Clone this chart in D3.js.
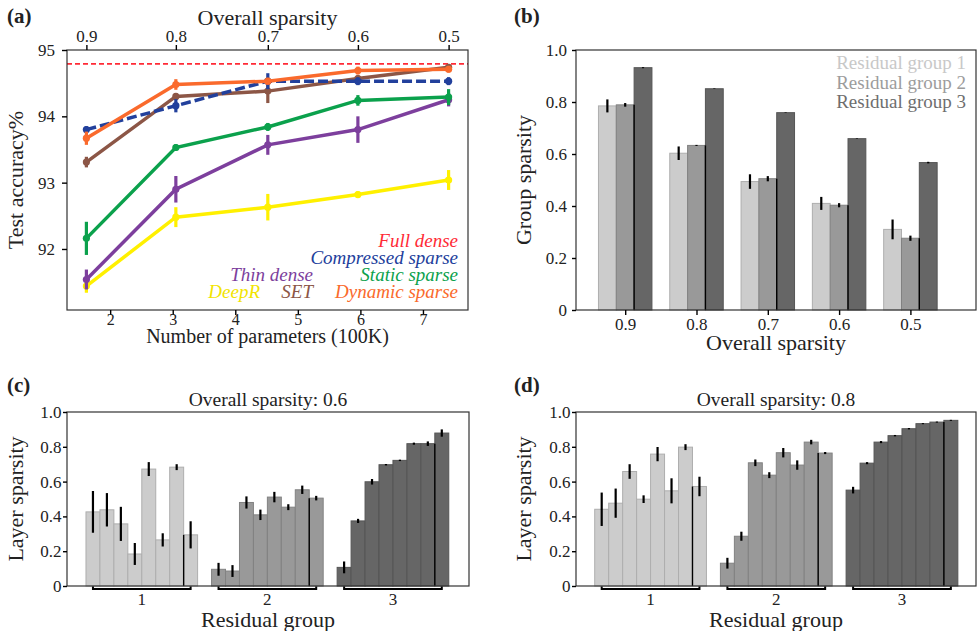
<!DOCTYPE html>
<html>
<head>
<meta charset="utf-8">
<script src="https://cdn.jsdelivr.net/npm/d3@7"></script>
<style>
  body { margin: 0; background: #fff; }
  svg text { font-family: "Liberation Serif", "Times New Roman", serif; fill: #222; }
</style>
</head>
<body>
<svg id="fig" width="979" height="631" font-family="Liberation Serif, serif"></svg>
<script>
// ---- (a) test accuracy vs number of parameters ----
var params = [1.62, 3.05, 4.52, 5.96, 7.41];           // 100K params
var sparsityLabels = ["0.9", "0.8", "0.7", "0.6", "0.5"];
var fullDense = 94.79;
var compressedSparse = [93.80, 94.16, 94.53, 94.53, 94.53];
var compressedErr    = [0.05, 0.10, 0.12, 0.06, 0.06];
var thinDense        = [91.54, 92.90, 93.57, 93.80, 94.25];
var thinErr          = [0.15, 0.20, 0.15, 0.20, 0.10];
var staticSparse     = [92.16, 93.53, 93.84, 94.24, 94.29];
var staticErr        = [0.25, 0.05, 0.06, 0.08, 0.12];
var deepR            = [91.44, 92.48, 92.63, 92.82, 93.04];
var deepRErr         = [0.10, 0.15, 0.20, 0.05, 0.15];
var setSeries        = [93.31, 94.30, 94.38, 94.57, 94.74];
var setErr           = [0.08, 0.05, 0.18, 0.05, 0.05];
var dynamicSparse    = [93.67, 94.48, 94.53, 94.69, 94.71];
var dynamicErr       = [0.10, 0.08, 0.05, 0.06, 0.05];

// ---- (b) group sparsity vs overall sparsity ----
var overall = ["0.9", "0.8", "0.7", "0.6", "0.5"];
var groupSparsity1 = [0.785, 0.603, 0.494, 0.410, 0.310];
var groupErr1      = [0.025, 0.026, 0.028, 0.025, 0.038];
var groupSparsity2 = [0.789, 0.633, 0.505, 0.403, 0.276];
var groupErr2      = [0.007, 0.002, 0.010, 0.008, 0.010];
var groupSparsity3 = [0.932, 0.851, 0.759, 0.659, 0.567];
var groupErr3      = [0.002, 0.001, 0.001, 0.001, 0.003];
var groupNames = ["Residual group 1", "Residual group 2", "Residual group 3"];

// ---- (c) layer sparsity, overall 0.6 ----
var s06Group1 = [0.426, 0.438, 0.357, 0.184, 0.672, 0.265, 0.683, 0.294];
var s06Group2 = [0.096, 0.086, 0.480, 0.409, 0.511, 0.453, 0.553, 0.505];
var s06Group3 = [0.107, 0.374, 0.599, 0.697, 0.722, 0.818, 0.818, 0.879];
var e06Group1 = [0.120, 0.096, 0.098, 0.063, 0.040, 0.038, 0.017, 0.078];
var e06Group2 = [0.037, 0.034, 0.035, 0.030, 0.030, 0.017, 0.024, 0.013];
var e06Group3 = [0.034, 0.012, 0.016, 0.004, 0.004, 0.006, 0.013, 0.021];

// ---- (d) layer sparsity, overall 0.8 ----
var s08Group1 = [0.441, 0.476, 0.658, 0.499, 0.758, 0.547, 0.798, 0.572];
var s08Group2 = [0.131, 0.286, 0.708, 0.637, 0.766, 0.695, 0.827, 0.764];
var s08Group3 = [0.551, 0.706, 0.827, 0.864, 0.904, 0.933, 0.942, 0.952];
var e08Group1 = [0.096, 0.084, 0.042, 0.022, 0.041, 0.072, 0.017, 0.056];
var e08Group2 = [0.031, 0.026, 0.019, 0.017, 0.027, 0.027, 0.013, 0.006];
var e08Group3 = [0.019, 0.006, 0.006, 0.004, 0.004, 0.003, 0.003, 0.003];

var groupTicks = ["1", "2", "3"];
var greyFill = ["#cccccc", "#999999", "#666666"];
var greyEdge = ["#aeaeae", "#828282", "#555555"];

var serif = '"Liberation Serif", "Times New Roman", serif';
var svg = d3.select("#fig");
var frameColor = "#333";

function frame(g, box) {
  g.append("rect")
    .attr("x", box.left).attr("y", box.top)
    .attr("width", box.right - box.left).attr("height", box.bottom - box.top)
    .attr("fill", "none").attr("stroke", frameColor).attr("stroke-width", 1.2);
}

function styleAxis(a, size) {
  a.attr("font-size", size || 17).attr("font-family", serif);
  a.select(".domain").remove();
  a.selectAll(".tick line").attr("stroke", "#000").attr("stroke-width", 1.4);
  a.selectAll(".tick text").attr("fill", "#222").style("font-family", serif);
}

var fmt = function(d) { return d === 0 ? "0" : d3.format(".1f")(d); };

// =================== panel (a) ===================
(function() {
  var box = {left: 67, right: 468, top: 50, bottom: 310};
  var g = svg.append("g");
  var x = d3.scaleLinear().domain([1.31, 7.72]).range([box.left, box.right]);
  var y = d3.scaleLinear().domain([91.08, 95]).range([box.bottom, box.top]);

  var series = [
    {name: "DeepR", vals: deepR, err: deepRErr, color: "#fff000"},
    {name: "Thin dense", vals: thinDense, err: thinErr, color: "#7d3f9d"},
    {name: "Static sparse", vals: staticSparse, err: staticErr, color: "#0ba14c"},
    {name: "SET", vals: setSeries, err: setErr, color: "#8c5646"},
    {name: "Compressed sparse", vals: compressedSparse, err: compressedErr, color: "#22409c", dash: "10,4"},
    {name: "Dynamic sparse", vals: dynamicSparse, err: dynamicErr, color: "#fa6a2c"}
  ];

  g.append("line")
    .attr("x1", box.left).attr("x2", box.right)
    .attr("y1", y(fullDense)).attr("y2", y(fullDense))
    .attr("stroke", "#ff2a36").attr("stroke-width", 1.7).attr("stroke-dasharray", "5,3");

  var line = d3.line().x(function(d) { return x(d.p); }).y(function(d) { return y(d.v); });

  series.forEach(function(s) {
    var pts = params.map(function(p, i) { return {p: p, v: s.vals[i], e: s.err[i]}; });
    var sg = g.append("g");
    sg.append("path").datum(pts)
      .attr("d", line).attr("fill", "none")
      .attr("stroke", s.color).attr("stroke-width", 3.5)
      .attr("stroke-dasharray", s.dash || null);
    sg.selectAll("line.err").data(pts).enter().append("line")
      .attr("x1", function(d) { return x(d.p); }).attr("x2", function(d) { return x(d.p); })
      .attr("y1", function(d) { return y(d.v - d.e); }).attr("y2", function(d) { return y(d.v + d.e); })
      .attr("stroke", s.color).attr("stroke-width", 3.2);
    sg.selectAll("circle").data(pts).enter().append("circle")
      .attr("cx", function(d) { return x(d.p); }).attr("cy", function(d) { return y(d.v); })
      .attr("r", 3.6).attr("fill", s.color);
  });

  frame(g, box);

  g.append("g").attr("transform", "translate(" + box.left + ",0)")
    .call(d3.axisLeft(y).tickValues([92, 93, 94, 95]).tickFormat(d3.format("d")).tickSize(5).tickPadding(7))
    .call(styleAxis);
  g.append("g").attr("transform", "translate(0," + box.bottom + ")")
    .call(d3.axisBottom(x).tickValues([2, 3, 4, 5, 6, 7]).tickFormat(d3.format("d")).tickSize(5).tickPadding(-1))
    .call(styleAxis, 16);
  g.append("g").attr("transform", "translate(0," + box.top + ")")
    .call(d3.axisTop(x).tickValues(params).tickFormat(function(d, i) { return sparsityLabels[i]; }).tickSize(5).tickPadding(3))
    .call(styleAxis);

  g.append("text").attr("x", (box.left + box.right) / 2).attr("y", 25)
    .attr("text-anchor", "middle").attr("font-size", 22).text("Overall sparsity");
  g.append("text").attr("x", (box.left + box.right) / 2).attr("y", 342.5)
    .attr("text-anchor", "middle").attr("font-size", 20).text("Number of parameters (100K)");
  g.append("text").attr("transform", "translate(23,180) rotate(-90)")
    .attr("text-anchor", "middle").attr("font-size", 22).text("Test accuracy%");

  // legend (coloured text)
  var leg = [
    {t: "Full dense", c: "#ff2a36", x: 458, y: 247},
    {t: "Compressed sparse", c: "#22409c", x: 458, y: 264},
    {t: "Thin dense", c: "#7d3f9d", x: 313, y: 281},
    {t: "Static sparse", c: "#0ba14c", x: 458, y: 281},
    {t: "DeepR", c: "#f2e400", x: 260, y: 298},
    {t: "SET", c: "#8c5646", x: 313, y: 298},
    {t: "Dynamic sparse", c: "#fa6a2c", x: 458, y: 298}
  ];
  g.selectAll("text.leg").data(leg).enter().append("text")
    .attr("x", function(d) { return d.x; }).attr("y", function(d) { return d.y; })
    .attr("text-anchor", "end").attr("font-size", 19).attr("font-style", "italic")
    .style("fill", function(d) { return d.c; }).text(function(d) { return d.t; });

  g.append("text").attr("x", 7).attr("y", 23).attr("font-size", 21).attr("font-weight", "bold").text("(a)");
})();

// =================== panel (b) ===================
(function() {
  var box = {left: 576, right: 976, top: 50, bottom: 310};
  var g = svg.append("g");
  var x = d3.scaleLinear().domain([-0.69, 4.92]).range([box.left, box.right]);
  var y = d3.scaleLinear().domain([0, 1]).range([box.bottom, box.top]);
  var bw = 0.25;
  var groups = [
    {vals: groupSparsity1, err: groupErr1},
    {vals: groupSparsity2, err: groupErr2},
    {vals: groupSparsity3, err: groupErr3}
  ];
  var bars = [];
  groups.forEach(function(gr, k) {
    gr.vals.forEach(function(v, i) {
      bars.push({i: i, k: k, v: v, e: gr.err[i]});
    });
  });
  function x0(d) { return x(d.i + (d.k - 1.5) * bw); }

  g.selectAll("rect.bar").data(bars).enter().append("rect")
    .attr("x", x0).attr("width", x(bw) - x(0))
    .attr("y", function(d) { return y(d.v); })
    .attr("height", function(d) { return y(0) - y(d.v); })
    .attr("fill", function(d) { return greyFill[d.k]; })
    .attr("stroke", function(d) { return greyEdge[d.k]; }).attr("stroke-width", 1);

  // dark seam between group 2 and group 3 bars
  g.selectAll("line.seam").data(overall).enter().append("line")
    .attr("x1", function(d, i) { return x(i + 0.5 * bw); }).attr("x2", function(d, i) { return x(i + 0.5 * bw); })
    .attr("y1", y(0)).attr("y2", function(d, i) { return y(Math.min(groupSparsity2[i], groupSparsity3[i])); })
    .attr("stroke", "#000").attr("stroke-width", 1.4);

  g.selectAll("line.err").data(bars).enter().append("line")
    .attr("x1", function(d) { return x0(d) + (x(bw) - x(0)) / 2; })
    .attr("x2", function(d) { return x0(d) + (x(bw) - x(0)) / 2; })
    .attr("y1", function(d) { return y(d.v - d.e); }).attr("y2", function(d) { return y(d.v + d.e); })
    .attr("stroke", "#000").attr("stroke-width", 2.2);

  frame(g, box);
  g.append("g").attr("transform", "translate(" + box.left + ",0)")
    .call(d3.axisLeft(y).tickValues([0, 0.2, 0.4, 0.6, 0.8, 1]).tickFormat(fmt).tickSize(4).tickPadding(5))
    .call(styleAxis);
  g.append("g").attr("transform", "translate(0," + box.bottom + ")")
    .call(d3.axisBottom(x).tickValues([0, 1, 2, 3, 4]).tickFormat(function(d) { return overall[d]; }).tickSize(5).tickPadding(3))
    .call(styleAxis);

  g.append("text").attr("x", (box.left + box.right) / 2).attr("y", 350)
    .attr("text-anchor", "middle").attr("font-size", 22).text("Overall sparsity");
  g.append("text").attr("transform", "translate(531,180) rotate(-90)")
    .attr("text-anchor", "middle").attr("font-size", 22).text("Group sparsity");

  g.selectAll("text.leg").data(groupNames).enter().append("text")
    .attr("x", 966).attr("y", function(d, i) { return 69 + i * 19.5; })
    .attr("text-anchor", "end").attr("font-size", 19)
    .style("fill", function(d, i) { return ["#c8c8c8", "#9c9c9c", "#6e6e6e"][i]; })
    .text(function(d) { return d; });

  g.append("text").attr("x", 514).attr("y", 23).attr("font-size", 21).attr("font-weight", "bold").text("(b)");
})();

// =================== panels (c), (d) ===================
function layerPanel(box, domain, groupVals, groupErrs, title, tag, labelX, tagX) {
  var g = svg.append("g");
  var x = d3.scaleLinear().domain(domain).range([box.left, box.right]);
  var y = d3.scaleLinear().domain([0, 1]).range([box.bottom, box.top]);
  var bars = [];
  groupVals.forEach(function(vals, k) {
    vals.forEach(function(v, j) { bars.push({pos: k * 9 + j, k: k, v: v, e: groupErrs[k][j]}); });
  });
  var w = x(1) - x(0);

  g.selectAll("rect.bar").data(bars).enter().append("rect")
    .attr("x", function(d) { return x(d.pos); }).attr("width", w)
    .attr("y", function(d) { return y(d.v); })
    .attr("height", function(d) { return y(0) - y(d.v); })
    .attr("fill", function(d) { return greyFill[d.k]; })
    .attr("stroke", function(d) { return greyEdge[d.k]; }).attr("stroke-width", 1);

  // dark seam between the 7th and 8th layer of each group
  g.selectAll("line.seam").data(groupVals).enter().append("line")
    .attr("x1", function(d, k) { return x(k * 9 + 7); }).attr("x2", function(d, k) { return x(k * 9 + 7); })
    .attr("y1", y(0)).attr("y2", function(d) { return y(Math.min(d[6], d[7])); })
    .attr("stroke", "#000").attr("stroke-width", 1.4);

  g.selectAll("line.err").data(bars).enter().append("line")
    .attr("x1", function(d) { return x(d.pos + 0.5); }).attr("x2", function(d) { return x(d.pos + 0.5); })
    .attr("y1", function(d) { return y(d.v - d.e); }).attr("y2", function(d) { return y(d.v + d.e); })
    .attr("stroke", "#000").attr("stroke-width", 2.2);

  frame(g, box);
  g.append("g").attr("transform", "translate(" + box.left + ",0)")
    .call(d3.axisLeft(y).tickValues([0, 0.2, 0.4, 0.6, 0.8, 1]).tickFormat(fmt).tickSize(4).tickPadding(1.5))
    .call(styleAxis);

  // group brackets and labels
  g.selectAll("path.bracket").data(groupTicks).enter().append("path")
    .attr("d", function(d, k) {
      var a = x(k * 9 + 0.5), b = x(k * 9 + 7.5), yb = box.bottom + 3;
      return "M" + a + "," + (box.bottom + 0.5) + "V" + yb + "H" + b + "V" + (box.bottom + 0.5);
    })
    .attr("fill", "none").attr("stroke", "#000").attr("stroke-width", 2);
  g.selectAll("text.gt").data(groupTicks).enter().append("text")
    .attr("x", function(d, k) { return x(k * 9 + 4); }).attr("y", box.bottom + 19)
    .attr("text-anchor", "middle").attr("font-size", 17).text(function(d) { return d; });

  g.append("text").attr("x", (box.left + box.right) / 2).attr("y", 627)
    .attr("text-anchor", "middle").attr("font-size", 22).text("Residual group");
  g.append("text").attr("x", (box.left + box.right) / 2).attr("y", 406)
    .attr("text-anchor", "middle").attr("font-size", 19.5).text(title);
  g.append("text").attr("transform", "translate(" + labelX + "," + (box.top + box.bottom) / 2 + ") rotate(-90)")
    .attr("text-anchor", "middle").attr("font-size", 22).text("Layer sparsity");
  g.append("text").attr("x", tagX).attr("y", 392).attr("font-size", 21).attr("font-weight", "bold").text(tag);
}

layerPanel({left: 67, right: 469, top: 412, bottom: 586}, [-1.36, 27.45],
  [s06Group1, s06Group2, s06Group3], [e06Group1, e06Group2, e06Group3],
  "Overall sparsity: 0.6", "(c)", 23, 7);
layerPanel({left: 576, right: 976, top: 412, bottom: 586}, [-1.34, 27.3],
  [s08Group1, s08Group2, s08Group3], [e08Group1, e08Group2, e08Group3],
  "Overall sparsity: 0.8", "(d)", 531, 514);
</script>
</body>
</html>
